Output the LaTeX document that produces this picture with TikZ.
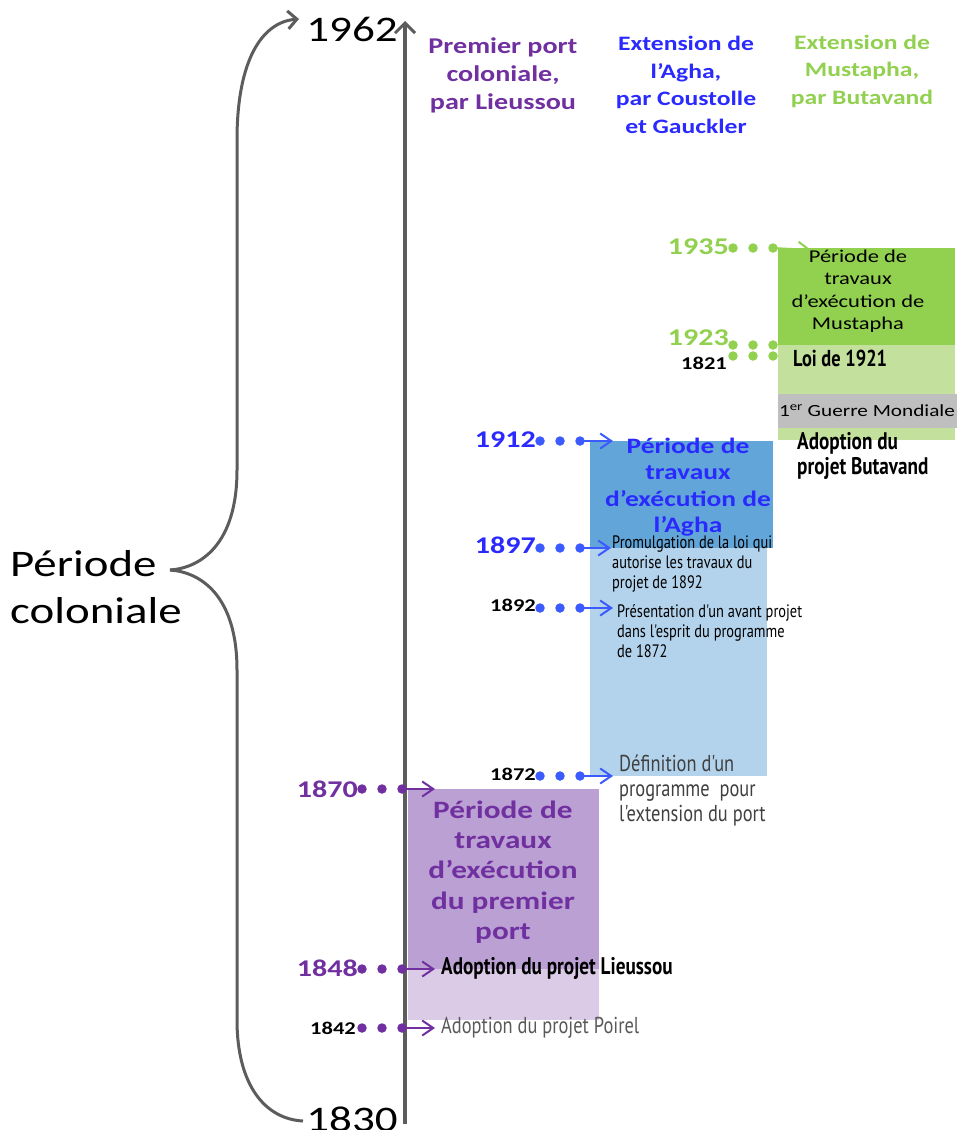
\documentclass[tikz,border=0pt]{standalone}
\usepackage{fontspec}
\setmainfont[FakeStretch=1.25]{Carlito}
\newfontfamily\nfont[FakeStretch=0.8]{PT Sans}
\usetikzlibrary{arrows.meta}
\definecolor{pur}{HTML}{7030A0}
\definecolor{blu}{HTML}{2A2AFF}
\definecolor{bluarr}{HTML}{3B5BFF}
\definecolor{grn}{HTML}{92D050}
\definecolor{grnlt}{HTML}{C3E19C}
\definecolor{bludk}{HTML}{62A5D8}
\definecolor{blult}{HTML}{B3D3EC}
\definecolor{purdk}{HTML}{BBA0D3}
\definecolor{purlt}{HTML}{DBCBE6}
\definecolor{band}{HTML}{BFBFBF}
\definecolor{axisg}{HTML}{5C5C5C}
\newcommand\dotrow[4]{%
  \node[dotn,fill=#2] (#1a) at (#3,#4) {};
  \node[dotn,fill=#2] (#1b) at (#3+20,#4) {};
  \node[dotn,fill=#2] (#1c) at (#3+40,#4) {};}
\begin{document}
\begin{tikzpicture}[x=1pt,y=-1pt,
  dotn/.style={circle,inner sep=0pt,minimum size=9.5pt,draw=none},
  arrw/.style={line width=2pt,-{Straight Barb[length=11pt,width=15pt,line width=2pt]}},
  hdr/.style={font=\bfseries\fontsize{20.5}{27.5}\selectfont,align=center,inner sep=0pt},
  ylab/.style={font=\bfseries\fontsize{24}{24}\selectfont,anchor=east,inner sep=0pt},
  ysm/.style={font=\bfseries\fontsize{18}{18}\selectfont,anchor=east,inner sep=0pt},
  note/.style={font=\nfont\fontsize{18}{20}\selectfont,align=left,anchor=west,inner sep=0pt},
  bignote/.style={font=\nfont\bfseries\fontsize{24}{25}\selectfont,align=left,anchor=west,inner sep=0pt},
  axisl/.style={draw=axisg,line width=4pt},
  bracel/.style={draw=axisg,line width=3pt}]
\useasboundingbox (0,0) rectangle (957,1130);
\fill[white] (0,0) rectangle (957,1130);

% 1935 connector lies under the green box
\dotrow{g35}{grn}{733}{248}
\coordinate (g35t) at (811,250);
\draw[arrw,grn] (g35c.center) -- (g35t);

% boxes
\fill[grnlt] (778,345) rectangle (955,440);
\fill[grn] (778,248) rectangle (955,345);
\fill[band] (778,394) rectangle (957,428);
\fill[bludk] (590,441) rectangle (773,548);
\fill[blult] (590,548) rectangle (767,776);
\fill[purdk] (408,789) rectangle (599,969);
\fill[purlt] (408,969) rectangle (599,1020);

% time axis
\node[font=\fontsize{36}{36}\selectfont,inner sep=0pt] (y1962) at (352,29) {1962};
\node[font=\fontsize{36}{36}\selectfont,inner sep=0pt] (y1830) at (352,1119) {1830};
\coordinate (axb) at (405,1124);
\coordinate (axt) at (405,21);
\draw[axisl,-{Straight Barb[length=10pt,width=20pt,line width=3pt]}] (axb) -- (axt);

% brace
\node[font=\fontsize{37.5}{47}\selectfont,align=left,inner sep=0pt,anchor=west] (pc) at (10,587) {P\'eriode\\coloniale};
\coordinate (btip) at (170,570);
\coordinate (btop) at (299,19);
\coordinate (bbot) at (303,1121);
\draw[bracel,-{Straight Barb[length=9pt,width=18pt,line width=3pt]}] (btip) .. controls (200,568) and (237,545) .. (237,470) -- (237,140) .. controls (237,60) and (262,22) .. (btop);
\draw[bracel] (btip) .. controls (200,572) and (237,595) .. (237,670) -- (237,1020) .. controls (237,1085) and (265,1119) .. (bbot);

% headers
\node[hdr,text=pur,font=\bfseries\fontsize{22.5}{28}\selectfont] (hp) at (503,75) {Premier port\\coloniale,\\par Lieussou};
\node[hdr,text=blu] (hb) at (686,85) {Extension de\\l'Agha,\\par Coustolle\\et Gauckler};
\node[hdr,text=grn] (hg) at (862,71) {Extension de\\Mustapha,\\par Butavand};

% box titles
\node[font=\fontsize{18}{22.5}\selectfont,align=center,inner sep=0pt] (tg) at (858,291) {P\'eriode de\\travaux\\d'ex\'ecution de\\Mustapha};
\node[font=\bfseries\fontsize{22}{26.3}\selectfont,align=center,inner sep=0pt,text=blu] (tb) at (688,487) {P\'eriode de\\travaux\\d'ex\'ecution de\\l'Agha};
\node[font=\bfseries\fontsize{25}{30.3}\selectfont,align=center,inner sep=0pt,text=pur] (tp) at (503,872) {P\'eriode de\\travaux\\d'ex\'ecution\\du premier\\port};
\node[font=\fontsize{17}{17}\selectfont,inner sep=0pt] (gm) at (867,411) {1\textsuperscript{er} Guerre Mondiale};

% green connectors
\node[ylab,text=grn] (l35) at (729,247) {1935};
\dotrow{g23}{grn}{733}{345}
\node[ylab,text=grn] (l23) at (729,338) {1923};
\dotrow{g21}{grn}{733}{356}
\node[ysm] (l21) at (727,363) {1821};
\node[bignote,font=\nfont\bfseries\fontsize{23}{25}\selectfont] (n21) at (793,358) {Loi de 1921};
\node[bignote] (nbut) at (797,456) {Adoption du\\projet Butavand};

% blue connectors
\dotrow{b12}{bluarr}{540}{441}
\coordinate (b12t) at (613,441);
\draw[arrw,bluarr] (b12c.center) -- (b12t);
\node[ylab,text=blu] (l12) at (536,440) {1912};

\dotrow{b97}{bluarr}{540}{548}
\coordinate (b97t) at (611,548);
\draw[arrw,bluarr] (b97c.center) -- (b97t);
\node[ylab,text=blu] (l97) at (536,545) {1897};
\node[note] (n97) at (612,564) {Promulgation de la loi qui\\autorise les travaux du\\projet de 1892};

\dotrow{b92}{bluarr}{540}{608}
\coordinate (b92t) at (613,608);
\draw[arrw,bluarr] (b92c.center) -- (b92t);
\node[ysm] (l92) at (536,605) {1892};
\node[note] (n92) at (617,631) {Pr\'esentation d'un avant projet\\dans l'esprit du programme\\de 1872};

\dotrow{b72}{bluarr}{540}{776}
\coordinate (b72t) at (613,776);
\draw[arrw,bluarr] (b72c.center) -- (b72t);
\node[ysm] (l72) at (536,774) {1872};
\node[font=\nfont\fontsize{23}{25}\selectfont,align=left,anchor=west,inner sep=0pt,text=black!75] (n72) at (619,791) {D\'efinition d'un\\programme~ pour\\l'extension du port};

% purple connectors
\dotrow{p70}{pur}{362}{789}
\coordinate (p70t) at (435,789);
\draw[arrw,pur] (p70c.center) -- (p70t);
\node[ylab,text=pur] (l70) at (358,789) {1870};

\dotrow{p48}{pur}{362}{969}
\coordinate (p48t) at (435,969);
\draw[arrw,pur] (p48c.center) -- (p48t);
\node[ylab,text=pur] (l48) at (358,968) {1848};
\node[bignote] (n48) at (441,968) {Adoption du projet Lieussou};

\dotrow{p42}{pur}{362}{1028}
\coordinate (p42t) at (435,1028);
\draw[arrw,pur] (p42c.center) -- (p42t);
\node[ysm] (l42) at (356,1028) {1842};
\node[font=\nfont\fontsize{23}{23}\selectfont,anchor=west,inner sep=0pt,text=black!65] (n42) at (441,1028) {Adoption du projet Poirel};
\end{tikzpicture}
\end{document}
